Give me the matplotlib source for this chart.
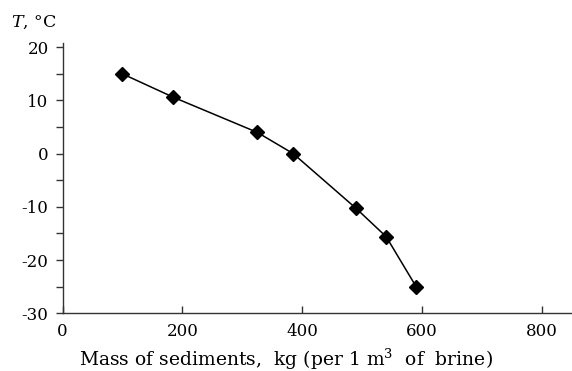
import numpy as np
import matplotlib
matplotlib.use('Agg')
import matplotlib.pyplot as plt

# values
mass = [100, 185, 325, 385, 490, 540, 590]  # kg per 1 m3 of brine
temp = [15, 10.6, 4, 0, -10.3, -15.6, -25]  # degrees C
xticks = [0, 200, 400, 600, 800]
yticks = [-30, -20, -10, 0, 10, 20]

plt.rcParams['font.family'] = 'DejaVu Serif'
plt.rcParams['mathtext.fontset'] = 'dejavuserif'
plt.rcParams['font.size'] = 12
plt.rcParams['axes.unicode_minus'] = False

fig = plt.figure(figsize=(5.72, 3.71), dpi=100)
ax = fig.add_axes([62.5 / 572, 57.7 / 371, 1 - 62.5 / 572, 270.3 / 371])

ax.plot(mass, temp, color='black', lw=1.1, marker='D', ms=7.5, mfc='black', mec='black')

ax.set_xlim(0, 850)
ax.set_ylim(-30, 20.8)
ax.set_xticks(xticks)
ax.set_yticks(yticks)
ax.set_yticks(np.arange(-25, 20, 10), minor=True)

for s in ['top', 'right']:
    ax.spines[s].set_visible(False)
for s in ['left', 'bottom']:
    ax.spines[s].set_color('#333333')
    ax.spines[s].set_linewidth(1.0)

ax.tick_params(axis='x', direction='in', length=5, width=1, color='#333333', pad=7)
ax.tick_params(axis='y', which='both', direction='out', length=5, width=1, color='#333333', pad=5)

fig.text(11 / 572, 0.928, '$T$, °C', fontsize=12.5, ha='left', va='baseline')
fig.text(0.5, 0.014, 'Mass of sediments,  kg (per 1 m$^3$  of  brine)',
         ha='center', va='baseline', fontsize=13.5)

fig.savefig('out.png', dpi=100)
